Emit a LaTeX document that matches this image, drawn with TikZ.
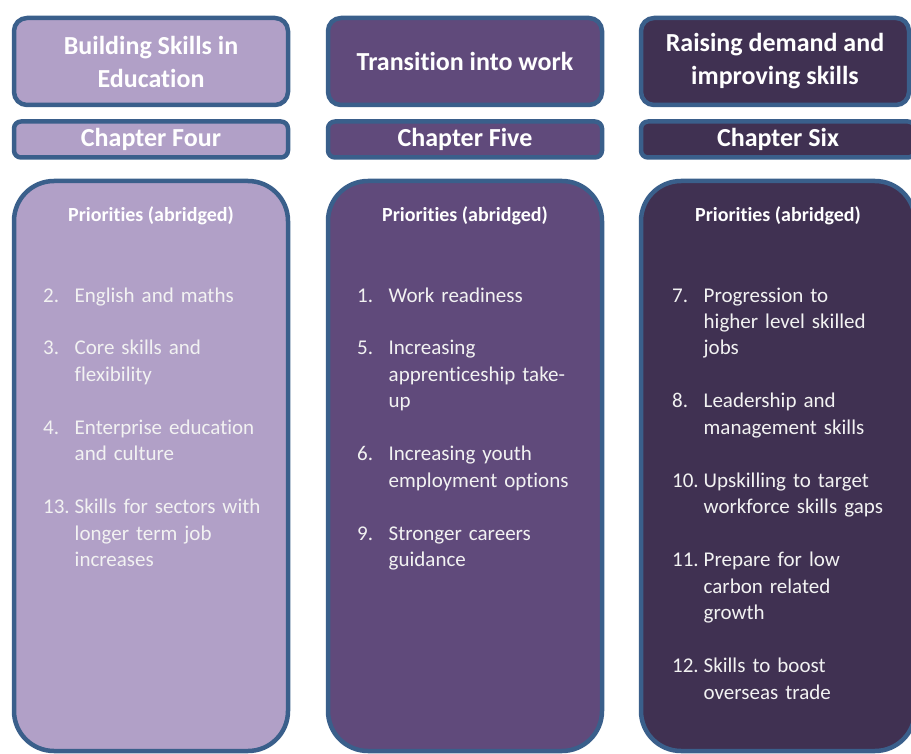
\documentclass[tikz,border=0pt]{standalone}
\usepackage{fontspec}
\setmainfont{Carlito}[Ligatures=NoCommon]
\usetikzlibrary{positioning}

\definecolor{skillblue}{HTML}{3A5F8B}
\definecolor{eduLilac}{HTML}{B1A0C7}
\definecolor{workPurple}{HTML}{604A7B}
\definecolor{demandPlum}{HTML}{403152}
\definecolor{prioText}{HTML}{F2F2F2}

% one numbered priority, hanging indent for the wrapped lines
\newcommand\prio[2]{\noindent\hangindent=31.5pt\hangafter=1\makebox[31.5pt][l]{#1}#2\par\vspace{26.5pt}}

\tikzset{
  panel/.style={draw=skillblue, line width=4.5pt, rectangle, text=white,
    font=\fontsize{26}{33}\selectfont\bfseries, align=center, inner sep=0pt},
  titlebox/.style={panel, rounded corners=13pt, minimum height=87pt},
  chapterbox/.style={panel, rounded corners=7pt, minimum height=36pt},
  prioritybox/.style={panel, rounded corners=40pt, minimum height=570pt},
  priohead/.style={text=white, font=\fontsize{20}{24}\selectfont\bfseries, inner sep=0pt, anchor=base},
  priolist/.style={text=prioText, font=\fontsize{21}{26.5}\selectfont, text width=250pt,
    inner sep=0pt, anchor=base west}
}

\begin{document}
\begin{tikzpicture}[x=1pt, y=-1pt]

      \useasboundingbox (0,0) rectangle (911,754);
      \clip (0,0) rectangle (911,754);

      % top row
      \node[titlebox, fill=eduLilac, minimum width=274pt] (title4) at (151,61.5) {Building Skills in\\Education};
      \node[titlebox, fill=workPurple, minimum width=274pt, right=35.5pt of title4] (title5) {Transition into work};
      \node[titlebox, fill=demandPlum, minimum width=268pt, right=34.5pt of title5] (title6) {Raising demand and\\improving skills};

      % chapters
      \node[chapterbox, fill=eduLilac, minimum width=274pt, below=12pt of title4] (chap4) {Chapter Four};
      \node[chapterbox, fill=workPurple, minimum width=274pt, right=35.5pt of chap4] (chap5) {Chapter Five};
      \node[chapterbox, fill=demandPlum, minimum width=274pt, right=34.5pt of chap5] (chap6) {Chapter Six};

      % priorities
      \node[prioritybox, fill=eduLilac, minimum width=274pt, below=19pt of chap4] (prio4) {};
      \node[prioritybox, fill=workPurple, minimum width=274pt, right=35.5pt of prio4] (prio5) {};
      \node[prioritybox, fill=demandPlum, minimum width=274pt, right=34.5pt of prio5] (prio6) {};

      \node[priohead] (head4) at ([yshift=-43.25pt]prio4.north) {Priorities (abridged)};
      \node[priohead] (head5) at ([yshift=-43.25pt]prio5.north) {Priorities (abridged)};
      \node[priohead] (head6) at ([yshift=-43.25pt]prio6.north) {Priorities (abridged)};

      \node[priolist] (list4) at ([xshift=31.25pt, yshift=-123.25pt]prio4.north west) {%
        \prio{2.}{English and maths}
        \prio{3.}{Core skills and\newline flexibility}
        \prio{4.}{Enterprise education\newline and culture}
        \prio{13.}{Skills for sectors with\newline longer term job\newline increases}};

      \node[priolist] (list5) at ([xshift=31.25pt, yshift=-123.25pt]prio5.north west) {%
        \prio{1.}{Work readiness}
        \prio{5.}{Increasing\newline apprenticeship take-\newline up}
        \prio{6.}{Increasing youth\newline employment options}
        \prio{9.}{Stronger careers\newline guidance}};

      \node[priolist] (list6) at ([xshift=33.25pt, yshift=-123.25pt]prio6.north west) {%
        \prio{7.}{Progression to\newline higher level skilled\newline jobs}
        \prio{8.}{Leadership and\newline management skills}
        \prio{10.}{Upskilling to target\newline workforce skills gaps}
        \prio{11.}{Prepare for low\newline carbon related\newline growth}
        \prio{12.}{Skills to boost\newline overseas trade}};

\end{tikzpicture}
\end{document}
